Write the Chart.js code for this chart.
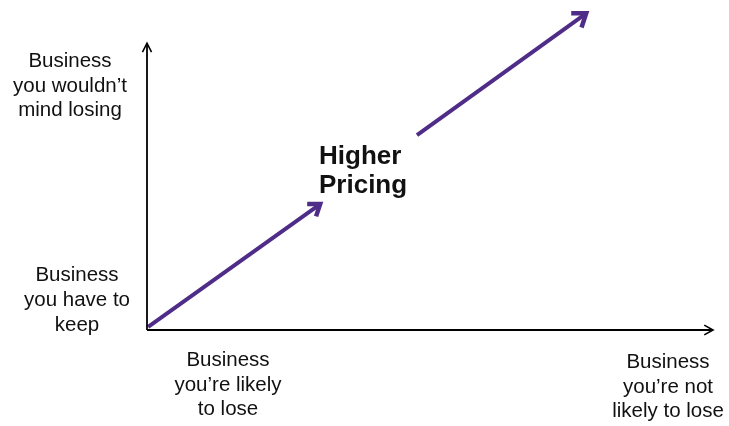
<!DOCTYPE html>
<html><head><meta charset="utf-8">
<script src="https://cdn.jsdelivr.net/npm/chart.js@4/dist/chart.umd.min.js"></script>
<style>html,body{margin:0;padding:0;background:#fff;overflow:hidden}#wrap{width:729px;height:426px}</style>
</head><body><div id="wrap"><canvas id="c" width="729" height="426"></canvas></div>
<script>
// ---- data (x: likelihood of losing the business, y: willingness to lose it) ----
const pricingArrowLow  = [{x: 0.2, y: 1.0}, {x: 30.6, y: 39.6}];
const pricingArrowHigh = [{x: 47.7, y: 61.3}, {x: 77.6, y: 99.6}];
const xAxisLine = [{x: 0, y: 0}, {x: 100, y: 0}];
const yAxisLine = [{x: 0, y: 0}, {x: 0, y: 90.2}];

const yAxisLabels = [["Business", "you wouldn’t", "mind losing"], ["Business", "you have to", "keep"]];
const xAxisLabels = [["Business", "you’re likely", "to lose"], ["Business", "you’re not", "likely to lose"]];
const arrowLabel = ["Higher", "Pricing"];

const PURPLE = '#4F2C88';

const arrowHeads = {
  id: 'arrowHeads',
  afterDatasetsDraw(chart) {
    const ctx = chart.ctx;
    chart.data.datasets.forEach((ds, i) => {
      if (!ds.arrowLen) return;
      const pts = chart.getDatasetMeta(i).data;
      const a = pts[pts.length - 2], b = pts[pts.length - 1];
      const ang = Math.atan2(b.y - a.y, b.x - a.x);
      const h = ds.arrowAngle * Math.PI / 180;
      ctx.save();
      ctx.strokeStyle = ds.borderColor;
      ctx.lineWidth = ds.arrowWidth || ds.borderWidth;
      ctx.lineJoin = 'miter';
      ctx.lineCap = 'butt';
      ctx.beginPath();
      ctx.moveTo(b.x - ds.arrowLen * Math.cos(ang - h), b.y - ds.arrowLen * Math.sin(ang - h));
      ctx.lineTo(b.x, b.y);
      ctx.lineTo(b.x - ds.arrowLen * Math.cos(ang + h), b.y - ds.arrowLen * Math.sin(ang + h));
      ctx.stroke();
      ctx.restore();
    });
  }
};

const textLabels = {
  id: 'textLabels',
  afterDraw(chart) {
    const ctx = chart.ctx;
    ctx.save();
    ctx.fillStyle = '#111';
    ctx.textBaseline = 'alphabetic';
    ctx.font = '20.5px "Liberation Sans", Arial, sans-serif';
    ctx.textAlign = 'center';
    const block = (lines, cx, y0, lh) => lines.forEach((t, k) => ctx.fillText(t, cx, y0 + k * lh));
    block(yAxisLabels[0], 70, 67, 24.5);
    block(yAxisLabels[1], 77, 281, 25);
    block(xAxisLabels[0], 228, 366, 24.5);
    block(xAxisLabels[1], 668, 368, 24.5);
    ctx.font = 'bold 26px "Liberation Sans", Arial, sans-serif';
    ctx.textAlign = 'left';
    block(arrowLabel, 319, 164, 28.5);
    ctx.restore();
  }
};

const lineDs = (data, color, width, len, angle, aw) => ({
  data, borderColor: color, borderWidth: width, pointRadius: 0, pointHoverRadius: 0,
  tension: 0, fill: false, clip: false, arrowLen: len, arrowAngle: angle, arrowWidth: aw
});

new Chart(document.getElementById('c'), {
  type: 'line',
  data: {
    datasets: [
      lineDs(xAxisLine, '#000', 1.8, 10, 29, 1.6),
      lineDs(yAxisLine, '#000', 1.8, 10, 27, 1.6),
      lineDs(pricingArrowLow, PURPLE, 4, 13, 36, 4.5),
      lineDs(pricingArrowHigh, PURPLE, 4, 15, 36, 4.5)
    ]
  },
  options: {
    responsive: false,
    animation: false,
    devicePixelRatio: 1,
    layout: { padding: { left: 147, right: 16, top: 12, bottom: 96 } },
    scales: {
      x: { type: 'linear', min: 0, max: 100, display: false },
      y: { type: 'linear', min: 0, max: 100, display: false }
    },
    plugins: { legend: { display: false }, tooltip: { enabled: false } },
    events: []
  },
  plugins: [arrowHeads, textLabels]
});
</script>
</body></html>
